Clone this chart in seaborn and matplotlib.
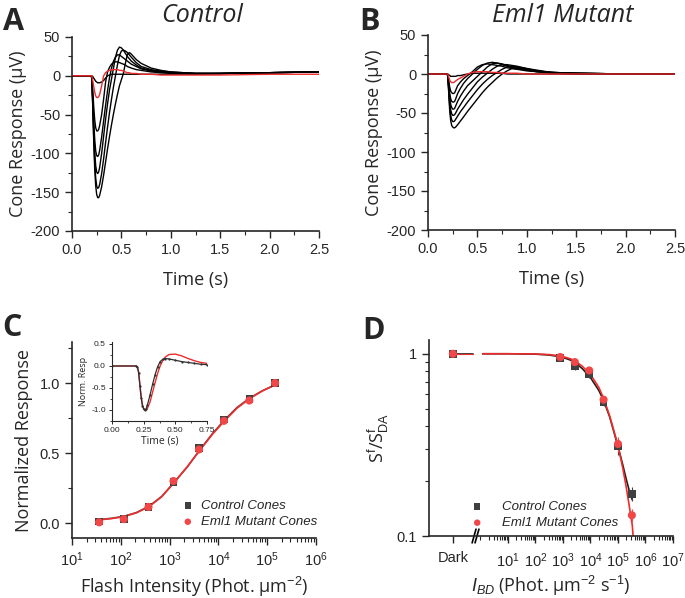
import numpy as np
import pandas as pd
import matplotlib
matplotlib.use('Agg')
import matplotlib.pyplot as plt
import matplotlib.ticker as mticker
import seaborn as sns

# ---------------- data ----------------
# Panel A: Control cone ERG traces (uV)
T_A = [0, 0.19, 0.2, 0.21, 0.22, 0.23, 0.24, 0.25, 0.26, 0.27, 0.28, 0.3, 0.32, 0.34,
       0.36, 0.38, 0.4, 0.42, 0.44, 0.46, 0.48, 0.5, 0.52, 0.54, 0.56, 0.58, 0.6,
       0.65, 0.7, 0.8, 0.9, 1.0, 1.25, 1.5, 2.0, 2.5]
ctrl_1 = [0, 0, -2, -40, -85, -120, -142, -153, -157, -157, -154, -143, -128, -111,
          -94, -78, -63, -49, -36, -24, -13, -5, 3, 16, 27, 30, 28, 21, 16, 10, 7, 5, 3, 3, 4, 5]
ctrl_2 = [0, 0, -2, -38, -80, -112, -132, -142, -145, -144, -140, -126, -107, -86,
          -66, -47, -30, -14, 0, 14, 26, 32, 33, 32, 30, 27, 24, 17, 12, 8, 6, 5, 3, 3, 4, 5]
ctrl_3 = [0, 0, -2, -33, -70, -98, -116, -124, -126, -124, -118, -100, -78, -56,
          -36, -18, -4, 10, 24, 33, 37, 36, 33, 29, 25, 22, 19, 14, 10, 7, 5, 4, 3, 3, 4, 5]
ctrl_4 = [0, 0, -2, -28, -58, -82, -97, -103, -104, -102, -96, -79, -58, -38,
          -19, -2, 10, 19, 24, 27, 27, 25, 23, 21, 19, 17, 15, 12, 9, 6, 5, 4, 3, 3, 4, 5]
ctrl_5 = [0, 0, -1, -18, -40, -57, -67, -71, -71, -69, -64, -50, -30, -8,
          5, 11, 15, 17, 18, 18, 17, 16, 15, 14, 12, 11, 10, 8, 7, 5, 4, 3, 3, 3, 4, 5]
ctrl_6 = [0, 0, 0, -1, -3, -5, -7, -8, -9, -9, -9, -8, -6, -3,
          0, 1, 2, 2, 2, 2, 2, 2, 2, 2, 2, 2, 2, 2, 2, 2, 2, 2, 2, 3, 4, 5]
ctrl_red = [0, 0, 0, -6, -14, -21, -26, -28, -28, -27, -24, -13, 0, 4,
            6, 7, 8, 8, 8, 8, 7, 7, 6, 5, 4, 4, 3, 3, 2, 2, 1, 1, 1, 1, 2, 2]

# Panel B: Eml1 mutant cone ERG traces (uV)
T_B = [0, 0.19, 0.2, 0.21, 0.22, 0.23, 0.24, 0.25, 0.26, 0.27, 0.28, 0.3, 0.33, 0.36,
       0.4, 0.45, 0.5, 0.55, 0.6, 0.65, 0.7, 0.75, 0.8, 0.85, 0.9, 1.0, 1.1, 1.25, 1.5, 2.0, 2.5]
mut_1 = [0, 0, -2, -25, -48, -60, -66, -68, -69, -69, -68, -65, -60, -55,
         -48, -40, -32, -24, -17, -11, -5, 0, 4, 7, 7, 5, 3, 1, 0, 0, 0]
mut_2 = [0, 0, -2, -22, -42, -53, -59, -61, -61, -60, -58, -54, -48, -43,
         -36, -28, -20, -13, -7, -2, 2, 6, 9, 10, 9, 7, 4, 2, 0, 0, 0]
mut_3 = [0, 0, -2, -19, -37, -46, -51, -53, -53, -52, -50, -45, -39, -33,
         -26, -18, -10, -4, 1, 6, 10, 12, 12, 11, 10, 7, 5, 2, 1, 0, 0]
mut_4 = [0, 0, -1, -16, -31, -39, -43, -45, -45, -44, -41, -35, -28, -22,
         -15, -9, -3, 3, 9, 13, 14, 13, 11, 9, 8, 6, 4, 2, 1, 0, 0]
mut_5 = [0, 0, -1, -13, -25, -32, -35, -36, -36, -35, -32, -25, -18, -12,
         -6, 0, 6, 11, 14, 15, 14, 12, 10, 8, 7, 5, 3, 2, 1, 0, 0]
mut_6 = [0, 0, -1, -9, -17, -22, -24, -25, -25, -24, -21, -15, -10, -6,
         -2, 3, 9, 12, 13, 12, 11, 10, 8, 7, 6, 4, 3, 2, 1, 0, 0]
mut_7 = [0, 0, 0, -1, -2, -3, -3, -3, -3, -3, -3, -2, -2, -1,
         0, 1, 1, 1, 1, 1, 1, 1, 0, 0, 0, 0, 0, 0, 0, 0, 0]
mut_red = [0, 0, 0, -4, -8, -10, -11, -11, -11, -10, -9, -7, -5, -3,
           0, 2, 3, 3, 3, 2, 2, 1, 1, 1, 1, 0, 0, 0, 0, 0, 0]

# Panel C: intensity-response
flash = [36, 115, 370, 1200, 4000, 13000, 43000, 145000]
resp_ctrl = [0.01, 0.03, 0.115, 0.295, 0.535, 0.74, 0.885, 1.0]
resp_ctrl_err = [0.005, 0.01, 0.01, 0.02, 0.02, 0.015, 0.015, 0.01]
resp_mut = [0.005, 0.028, 0.115, 0.30, 0.525, 0.73, 0.875, 1.0]
resp_mut_err = [0.005, 0.008, 0.01, 0.015, 0.015, 0.015, 0.015, 0.01]
fit_flash = [36, 65, 116, 210, 380, 690, 1240, 2300, 4200, 7600, 13500, 24000, 44000, 80000, 150000]
fit_resp_ctrl = [0.024, 0.034, 0.048, 0.075, 0.12, 0.19, 0.29, 0.40, 0.524, 0.64, 0.738, 0.825, 0.893, 0.945, 0.988]
fit_resp_mut = [0.022, 0.032, 0.046, 0.073, 0.118, 0.188, 0.29, 0.402, 0.522, 0.635, 0.732, 0.82, 0.89, 0.944, 0.99]

# Panel C inset: normalized dim flash responses
T_IN = [0, 0.19, 0.2, 0.21, 0.22, 0.23, 0.24, 0.25, 0.26, 0.27, 0.28, 0.3, 0.32, 0.34,
        0.36, 0.38, 0.4, 0.42, 0.45, 0.5, 0.55, 0.6, 0.65, 0.7, 0.75]
norm_ctrl = [0, 0, -0.02, -0.15, -0.45, -0.72, -0.9, -0.98, -1.0, -0.97, -0.88, -0.66, -0.42, -0.2,
             -0.02, 0.1, 0.15, 0.17, 0.16, 0.13, 0.1, 0.08, 0.06, 0.04, 0.03]
norm_mut = [0, 0, -0.02, -0.13, -0.4, -0.68, -0.87, -0.97, -1.0, -1.0, -0.96, -0.82, -0.6, -0.38,
            -0.17, 0.0, 0.12, 0.2, 0.26, 0.27, 0.23, 0.17, 0.12, 0.08, 0.06]

# Panel D: background adaptation (Dark + backgrounds)
bg = [800, 2700, 9000, 30000, 100000, 320000]
sens_ctrl = [0.95, 0.85, 0.77, 0.545, 0.31, 0.17]
sens_ctrl_err = [0.01, 0.04, 0.03, 0.03, 0.03, 0.015]
sens_mut = [0.96, 0.90, 0.81, 0.56, 0.32, 0.13]
sens_mut_err = [0.01, 0.02, 0.03, 0.03, 0.03, 0.01]
sens_dark = 1.0
fit_bg_ctrl = [1.2, 10, 100, 300, 600, 1000, 2000, 3000, 5000, 1e4, 2e4, 3e4, 5e4, 1e5, 1.5e5, 2e5, 2.5e5, 3.3e5]
fit_sens_ctrl = [1.0, 1.0, 0.995, 0.985, 0.97, 0.955, 0.92, 0.885, 0.83, 0.74, 0.63, 0.555, 0.45, 0.31, 0.245, 0.205, 0.18, 0.158]
fit_bg_mut = [1.2, 10, 100, 300, 600, 1000, 2000, 3000, 5000, 1e4, 2e4, 3e4, 5e4, 1e5, 1.5e5, 2e5, 2.5e5, 3.3e5, 3.55e5]
fit_sens_mut = [1.0, 1.0, 0.997, 0.99, 0.978, 0.965, 0.935, 0.905, 0.855, 0.77, 0.655, 0.57, 0.455, 0.315, 0.235, 0.185, 0.15, 0.115, 0.1]

# ---------------- style ----------------
sns.set_theme(style='ticks')
plt.rcParams['font.family'] = ['Liberation Sans', 'DejaVu Sans']
plt.rcParams['mathtext.fontset'] = 'custom'
plt.rcParams['mathtext.rm'] = 'Liberation Sans'
plt.rcParams['mathtext.it'] = 'Liberation Sans:italic'
plt.rcParams['axes.unicode_minus'] = False
plt.rcParams['axes.linewidth'] = 1.2
plt.rcParams['xtick.major.width'] = 1.0
plt.rcParams['ytick.major.width'] = 1.0
plt.rcParams['xtick.minor.width'] = 0.8
plt.rcParams['ytick.minor.width'] = 0.8
plt.rcParams['xtick.major.size'] = 5
plt.rcParams['ytick.major.size'] = 5
plt.rcParams['xtick.minor.size'] = 3
plt.rcParams['ytick.minor.size'] = 3

W, H = 685, 598
RED = '#ee2c2c'
DOT_RED = '#f04848'
DOT_BLK = '#404040'
LBL = dict(family='Open Sans', fontsize=13)
TICK = 10.5
LEG = dict(family='Liberation Sans', style='italic', size=9.5)

fig = plt.figure(figsize=(W / 100, H / 100), dpi=100)


def box(l, t, r, b):
    return [l / W, 1 - b / H, (r - l) / W, (b - t) / H]


def line(x, y, ax, **kw):
    # plain line through the read points (no seaborn error band)
    sns.lineplot(x=x, y=y, ax=ax, errorbar=None, sort=False, **kw)


def traces_df(t, traces):
    rows = []
    for i, v in enumerate(traces):
        rows.append(pd.DataFrame({'t': t, 'v': v, 'trace': i}))
    return pd.concat(rows, ignore_index=True)


def trace_panel(ax, t, blacks, red):
    df = traces_df(t, blacks)
    sns.lineplot(data=df, x='t', y='v', units='trace', estimator=None, sort=False,
                 color='black', lw=1.0, ax=ax, legend=False)
    line(t, red, ax, color=RED, lw=1.0)
    ax.set_xlim(0, 2.5)
    ax.set_ylim(-200, 50)
    ax.xaxis.set_major_locator(mticker.MultipleLocator(0.5))
    ax.xaxis.set_minor_locator(mticker.MultipleLocator(0.25))
    ax.yaxis.set_major_locator(mticker.MultipleLocator(50))
    ax.yaxis.set_minor_locator(mticker.MultipleLocator(25))
    ax.xaxis.set_major_formatter(mticker.FormatStrFormatter('%.1f'))
    ax.tick_params(labelsize=TICK)
    ax.set_xlabel('Time (s)', **LBL, labelpad=10)
    ax.set_ylabel('Cone Response (µV)', **LBL, labelpad=3)
    sns.despine(ax=ax)


# ---------------- A ----------------
axA = fig.add_axes(box(72, 37, 319, 231))
trace_panel(axA, T_A, [ctrl_1, ctrl_2, ctrl_3, ctrl_4, ctrl_5, ctrl_6], ctrl_red)

# ---------------- B ----------------
axB = fig.add_axes(box(428, 35, 675, 230))
trace_panel(axB, T_B, [mut_1, mut_2, mut_3, mut_4, mut_5, mut_6, mut_7], mut_red)

# ---------------- C ----------------
axC = fig.add_axes(box(72, 342, 316, 538))
line(fit_flash, fit_resp_ctrl, axC, color='#505050', lw=1.2)
line(fit_flash, fit_resp_mut, axC, color=RED, lw=1.2)
axC.errorbar(flash, resp_ctrl, yerr=resp_ctrl_err, fmt='none', ecolor=DOT_BLK, elinewidth=0.8)
axC.errorbar(flash, resp_mut, yerr=resp_mut_err, fmt='none', ecolor=DOT_RED, elinewidth=0.8)
sns.scatterplot(x=flash, y=resp_ctrl, marker='s', s=30, color=DOT_BLK, edgecolor='none',
                ax=axC, label='Control Cones', zorder=3)
sns.scatterplot(x=flash, y=resp_mut, marker='o', s=34, color=DOT_RED, edgecolor='none',
                ax=axC, label='Eml1 Mutant Cones', zorder=4)
axC.set_xscale('log')
axC.set_xlim(10, 1e6)
axC.set_ylim(-0.107, 1.293)
axC.xaxis.set_major_locator(mticker.LogLocator(base=10, numticks=10))
axC.xaxis.set_minor_locator(mticker.LogLocator(base=10, subs=np.arange(2, 10), numticks=10))
axC.xaxis.set_minor_formatter(mticker.NullFormatter())
axC.yaxis.set_major_locator(mticker.MultipleLocator(0.5))
axC.yaxis.set_minor_locator(mticker.MultipleLocator(0.25))
axC.yaxis.set_major_formatter(mticker.FormatStrFormatter('%.1f'))
axC.tick_params(labelsize=TICK)
axC.tick_params(axis='x', pad=4)
axC.set_xlabel('Flash Intensity (Phot. µm$^{-2}$)', **LBL, labelpad=4)
axC.set_ylabel('Normalized Response', **LBL, labelpad=5)
axC.legend(loc='lower right', bbox_to_anchor=(1.005, 0.05), frameon=False, handletextpad=0.5,
           handlelength=1.0, labelspacing=0.3, borderpad=0, borderaxespad=0, prop=LEG,
           markerscale=0.8)
sns.despine(ax=axC)

# inset
axI = fig.add_axes(box(112, 342, 207, 421))
line(T_IN, norm_mut, axI, color=RED, lw=1.0)
line(T_IN, norm_ctrl, axI, color='#303030', lw=0.9, marker='o', markersize=1.6, markeredgewidth=0)
axI.set_xlim(0, 0.75)
axI.set_ylim(-1.25, 0.545)
axI.xaxis.set_major_locator(mticker.MultipleLocator(0.25))
axI.xaxis.set_minor_locator(mticker.MultipleLocator(0.125))
axI.yaxis.set_major_locator(mticker.MultipleLocator(0.5))
axI.yaxis.set_minor_locator(mticker.MultipleLocator(0.25))
axI.xaxis.set_major_formatter(mticker.FormatStrFormatter('%.2f'))
axI.yaxis.set_major_formatter(mticker.FormatStrFormatter('%.1f'))
axI.tick_params(labelsize=6, length=2.5, width=0.7, pad=2)
axI.tick_params(which='minor', length=1.5, width=0.6)
for s in axI.spines.values():
    s.set_linewidth(0.8)
axI.set_xlabel('Time (s)', family='Open Sans', fontsize=7.5, labelpad=1)
axI.set_ylabel('Norm. Resp', family='Open Sans', fontsize=6.5, labelpad=2)
sns.despine(ax=axI)

# ---------------- D ----------------
DARK_X = 0.1
axD = fig.add_axes(box(429, 340, 673, 536))
axD.set_xscale('log')
axD.set_yscale('log')
# horizontal fit segment from the Dark point up to the axis break
line([DARK_X, 0.55], [sens_dark, sens_dark], axD, color='#202020', lw=1.2)
line([DARK_X, 0.55], [sens_dark, sens_dark], axD, color=RED, lw=0.8)
line(fit_bg_ctrl, fit_sens_ctrl, axD, color='#202020', lw=1.2)
line(fit_bg_mut, fit_sens_mut, axD, color=RED, lw=1.2)
axD.errorbar(bg, sens_ctrl, yerr=sens_ctrl_err, fmt='none', ecolor=DOT_BLK, elinewidth=0.8)
axD.errorbar(bg, sens_mut, yerr=sens_mut_err, fmt='none', ecolor=DOT_RED, elinewidth=0.8)
sns.scatterplot(x=[DARK_X] + bg, y=[sens_dark] + sens_ctrl, marker='s', s=30, color=DOT_BLK,
                edgecolor='none', ax=axD, label='Control Cones', zorder=3)
sns.scatterplot(x=[DARK_X] + bg, y=[sens_dark] + sens_mut, marker='o', s=34, color=DOT_RED,
                edgecolor='none', ax=axD, label='Eml1 Mutant Cones', zorder=4)
axD.set_xlim(10 ** -1.87, 1e7)
axD.set_ylim(0.1, 1.19)
axD.set_xticks([DARK_X] + [10.0 ** k for k in range(1, 8)])
axD.set_xticklabels(['Dark'] + ['$10^{%d}$' % k for k in range(1, 8)])
axD.set_xticks([1.0] + [m * 10.0 ** k for k in range(0, 7) for m in range(2, 10)], minor=True)
axD.xaxis.set_minor_formatter(mticker.NullFormatter())
axD.set_yticks([0.1, 1])
axD.set_yticklabels(['0.1', '1'])
axD.yaxis.set_minor_formatter(mticker.NullFormatter())
axD.tick_params(labelsize=TICK)
axD.tick_params(axis='x', pad=6)
axD.set_ylabel(r'S$^{\mathrm{f}}$/S$^{\mathrm{f}}_{\mathrm{DA}}$', family='Open Sans', fontsize=13, labelpad=4)
axD.set_xlabel(r'$I_{BD}$ (Phot. µm$^{-2}$ s$^{-1}$)', **LBL, labelpad=3)
axD.legend(loc='lower left', bbox_to_anchor=(0.176, 0.035), frameon=False, handletextpad=1.5,
           handlelength=0.8, labelspacing=0.3, borderpad=0, borderaxespad=0, prop=LEG,
           markerscale=0.8)
sns.despine(ax=axD)
# axis break marks
bx = (477 - 429) / (673 - 429)
for dx in (-0.012, 0.0):
    axD.plot([bx + dx - 0.008, bx + dx + 0.008], [-0.035, 0.035], transform=axD.transAxes,
             color='black', lw=1.2, clip_on=False)

# ---------------- panel letters & titles ----------------
for letter, x, y in [('A', 3, 22), ('B', 359, 22), ('C', 2, 328), ('D', 362, 331)]:
    fig.text(x / W, 1 - y / H, letter, fontsize=22, fontweight='bold', family='Open Sans',
             va='center', ha='left')
fig.text(202 / W, 1 - 16 / H, 'Control', fontsize=18, style='italic', family='Open Sans',
         ha='center', va='center')
fig.text(563 / W, 1 - 16 / H, 'Eml1 Mutant', fontsize=18, style='italic', family='Open Sans',
         ha='center', va='center')

fig.savefig('out.png', dpi=100)
